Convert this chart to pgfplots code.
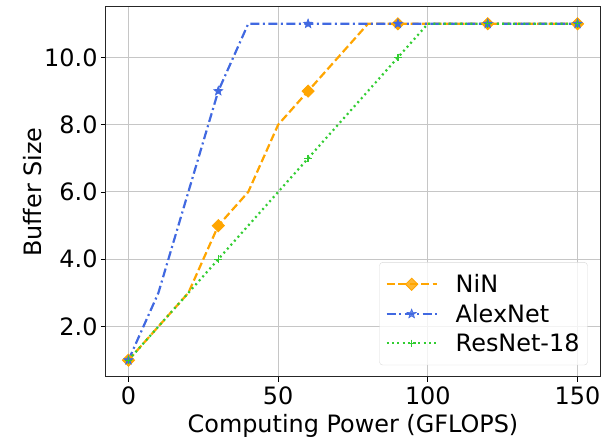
\documentclass[border=0pt]{standalone}
\usepackage{pgfplots}
\pgfplotsset{compat=1.18}
\usepackage{fontspec}
\setmainfont{DejaVu Sans}
\definecolor{nin}{HTML}{FFA500}
\definecolor{alex}{HTML}{4169E1}
\definecolor{res}{HTML}{32CD32}
\pgfdeclareplotmark{fstar}{%
  \pgfpathmoveto{\pgfpointpolar{90}{\pgfplotmarksize}}%
  \pgfpathlineto{\pgfpointpolar{126}{0.42\pgfplotmarksize}}%
  \pgfpathlineto{\pgfpointpolar{162}{\pgfplotmarksize}}%
  \pgfpathlineto{\pgfpointpolar{198}{0.42\pgfplotmarksize}}%
  \pgfpathlineto{\pgfpointpolar{234}{\pgfplotmarksize}}%
  \pgfpathlineto{\pgfpointpolar{270}{0.42\pgfplotmarksize}}%
  \pgfpathlineto{\pgfpointpolar{306}{\pgfplotmarksize}}%
  \pgfpathlineto{\pgfpointpolar{342}{0.42\pgfplotmarksize}}%
  \pgfpathlineto{\pgfpointpolar{18}{\pgfplotmarksize}}%
  \pgfpathlineto{\pgfpointpolar{54}{0.42\pgfplotmarksize}}%
  \pgfpathclose\pgfusepathqfillstroke}
\begin{document}
\begin{tikzpicture}
\begin{axis}[
  scale only axis,
  width=494bp, height=370bp,
  xmin=-7.5, xmax=157.5,
  ymin=0.5, ymax=11.5,
  xtick={0,50,100,150},
  ytick={2,4,6,8,10},
  yticklabel style={/pgf/number format/.cd,fixed,fixed zerofill,precision=1},
  /pgf/number format/assume math mode=true,
  tick label style={font=\fontsize{24}{28}\selectfont},
  label style={font=\fontsize{24}{28}\selectfont},
  xticklabel style={yshift=-1bp},
  xlabel={Computing Power (GFLOPS)},
  ylabel={Buffer Size},
  xlabel style={yshift=-3bp},
  ylabel style={yshift=-4bp},
  grid=major,
  major grid style={gray!45, line width=1bp},
  tick align=outside,
  xtick pos=left, ytick pos=left,
  major tick length=5bp,
  tick style={black, line width=0.9bp},
  axis line style={line width=1bp, black!85},
  legend style={at={(0.975,0.032)}, anchor=south east, font=\fontsize{24}{28}\selectfont,
    draw=gray!30, rounded corners=3bp, fill=white, fill opacity=0.8, text opacity=1,
    row sep=6bp, inner xsep=6bp, inner ysep=10bp},
  legend cell align=left,
  legend image code/.code={%
    \draw[#1, mark repeat=2, mark phase=2] plot coordinates {(0bp,0bp)(25bp,0bp)(50bp,0bp)};
    \path (66bp,0bp);},
]
\addplot[color=nin, line width=2.2bp, dash pattern=on 8bp off 3.5bp, mark=square*, mark size=4.3bp, mark repeat=3, mark options={solid, fill=nin, line width=0.8bp, rotate=45}]
coordinates {(0,1)(10,2)(20,3)(30,5)(40,6)(50,8)(60,9)(70,10)(80,11)(90,11)(100,11)(110,11)(120,11)(130,11)(140,11)(150,11)};
\addlegendentry{NiN}
\addplot[color=alex, line width=2.2bp, dash pattern=on 9bp off 3.5bp on 2bp off 3.5bp, mark=fstar, mark size=4.8bp, mark repeat=3, mark options={solid, fill=alex, line width=0.6bp}]
coordinates {(0,1)(10,3)(20,6)(30,9)(40,11)(50,11)(60,11)(70,11)(80,11)(90,11)(100,11)(110,11)(120,11)(130,11)(140,11)(150,11)};
\addlegendentry{AlexNet}
\addplot[color=res, line width=2.2bp, dash pattern=on 2bp off 3.3bp, mark=+, mark size=3.8bp, mark repeat=3, mark options={solid, line width=1.3bp}]
coordinates {(0,1)(10,2)(20,3)(30,4)(40,5)(50,6)(60,7)(70,8)(80,9)(90,10)(100,11)(110,11)(120,11)(130,11)(140,11)(150,11)};
\addlegendentry{ResNet-18}
\end{axis}
\path (current axis.south west) ++(-106bp,-63bp) (current axis.north east) ++(5bp,7bp);
\end{tikzpicture}
\end{document}
